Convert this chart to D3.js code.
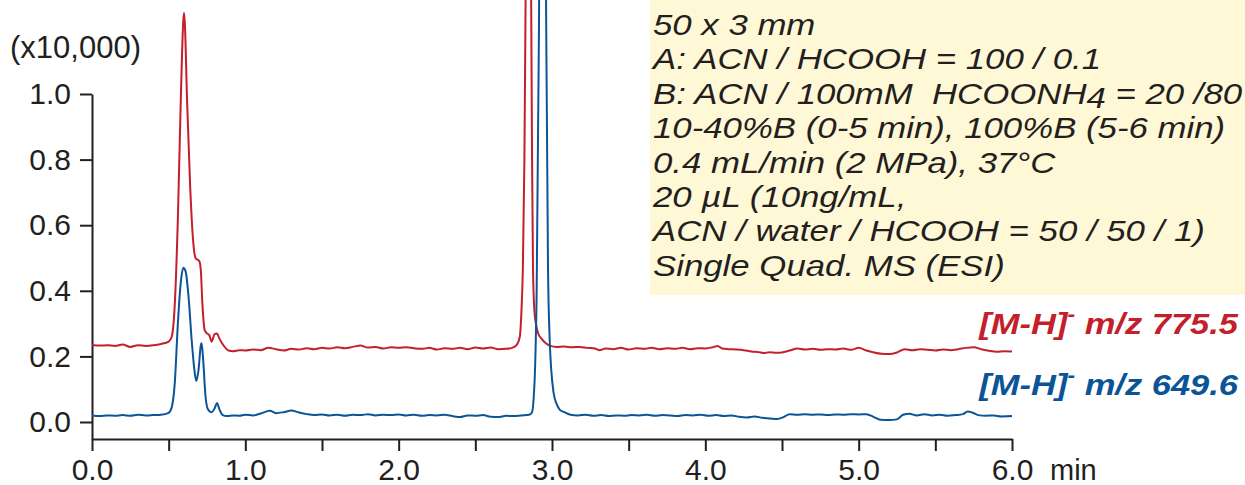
<!DOCTYPE html>
<html>
<head>
<meta charset="utf-8">
<script src="https://cdn.jsdelivr.net/npm/d3@7"></script>
<style>
  body { margin: 0; background: #fff; }
  svg { display: block; font-family: "Liberation Sans", Arial, sans-serif; }
</style>
</head>
<body>
<svg></svg>
<script>
const svgWidth = 1245;
const svgHeight = 485;

// Chromatogram traces, [time (min), intensity (x10,000)]
const redTrace = [
  [0.00,.235],[0.05,.233],[0.10,.234],[0.15,.232],[0.20,.236],[0.25,.229],[0.30,.234],[0.35,.232],
  [0.40,.234],[0.45,.238],[0.50,.245],[0.52,.26],[0.54,.36],[0.56,.62],[0.58,1.0],[0.595,1.22],
  [0.60,1.247],[0.605,1.22],[0.62,.98],[0.64,.72],[0.66,.55],[0.675,.50],[0.70,.49],[0.71,.46],
  [0.72,.36],[0.735,.28],[0.75,.27],[0.765,.265],[0.78,.245],[0.80,.268],[0.815,.27],[0.83,.255],
  [0.86,.232],[0.89,.218],[0.92,.216],[0.96,.219],[1.00,.218],[1.05,.221],[1.10,.219],[1.15,.226],
  [1.20,.222],[1.25,.218],[1.30,.223],[1.35,.221],[1.40,.225],[1.45,.222],[1.50,.226],[1.55,.224],
  [1.60,.228],[1.65,.225],[1.70,.229],[1.75,.233],[1.80,.227],[1.85,.229],[1.90,.224],[1.95,.228],
  [2.00,.226],[2.05,.228],[2.10,.225],[2.15,.223],[2.20,.226],[2.25,.221],[2.30,.225],[2.35,.223],
  [2.40,.226],[2.45,.222],[2.50,.227],[2.55,.224],[2.60,.227],[2.65,.222],[2.70,.223],[2.74,.226],
  [2.77,.235],[2.79,.26],[2.80,.33],[2.81,.47],[2.82,.8],[2.828,1.3],[2.837,1.8],[2.847,2.0],
  [2.856,1.8],[2.864,1.3],[2.87,.8],[2.876,.47],[2.885,.34],[2.895,.30],[2.91,.27],[2.93,.255],
  [2.96,.24],[2.99,.232],[3.03,.229],[3.08,.230],[3.13,.228],[3.18,.229],[3.23,.226],[3.28,.224],
  [3.31,.219],[3.35,.224],[3.40,.222],[3.45,.226],[3.50,.221],[3.55,.225],[3.60,.223],[3.65,.226],
  [3.70,.222],[3.75,.225],[3.80,.223],[3.85,.226],[3.90,.222],[3.95,.225],[4.00,.224],[4.05,.228],
  [4.08,.232],[4.11,.224],[4.15,.222],[4.20,.221],[4.25,.219],[4.30,.215],[4.35,.213],[4.38,.210],
  [4.42,.213],[4.46,.211],[4.50,.212],[4.55,.218],[4.60,.224],[4.65,.221],[4.70,.223],[4.75,.220],
  [4.80,.222],[4.85,.221],[4.90,.224],[4.95,.220],[5.00,.226],[5.05,.218],[5.10,.212],[5.15,.208],
  [5.20,.207],[5.25,.212],[5.30,.222],[5.35,.219],[5.40,.222],[5.45,.220],[5.50,.218],[5.55,.221],
  [5.60,.219],[5.65,.222],[5.70,.226],[5.75,.228],[5.80,.222],[5.85,.217],[5.90,.214],[5.95,.216],
  [6.00,.215]
];

const blueTrace = [
  [0.00,.020],[0.05,.018],[0.10,.020],[0.15,.019],[0.20,.021],[0.25,.019],[0.30,.022],[0.35,.020],
  [0.40,.021],[0.45,.022],[0.50,.028],[0.52,.045],[0.54,.12],[0.56,.30],[0.58,.43],[0.595,.47],
  [0.61,.46],[0.63,.38],[0.65,.25],[0.67,.15],[0.68,.125],[0.695,.16],[0.71,.235],[0.715,.24],
  [0.725,.19],[0.74,.08],[0.755,.04],[0.78,.03],[0.80,.042],[0.815,.058],[0.83,.04],[0.85,.022],
  [0.88,.018],[0.92,.020],[0.96,.019],[1.00,.022],[1.05,.020],[1.10,.026],[1.16,.034],[1.20,.027],
  [1.25,.030],[1.30,.035],[1.35,.029],[1.40,.024],[1.45,.021],[1.50,.023],[1.55,.020],[1.60,.022],
  [1.65,.019],[1.70,.022],[1.75,.021],[1.80,.024],[1.85,.020],[1.90,.022],[1.95,.021],[2.00,.023],
  [2.05,.020],[2.10,.022],[2.15,.019],[2.20,.021],[2.25,.020],[2.30,.022],[2.35,.018],[2.40,.015],
  [2.45,.020],[2.50,.019],[2.55,.021],[2.60,.016],[2.65,.015],[2.70,.019],[2.75,.018],[2.80,.020],
  [2.85,.022],[2.87,.030],[2.88,.07],[2.89,.17],[2.90,.40],[2.915,1.2],[2.927,2.2],[2.938,2.6],
  [2.95,2.2],[2.961,1.3],[2.974,.47],[2.985,.25],[2.995,.16],[3.01,.09],[3.03,.055],[3.05,.038],
  [3.08,.030],[3.12,.022],[3.17,.020],[3.22,.022],[3.27,.019],[3.32,.021],[3.37,.018],[3.42,.020],
  [3.47,.019],[3.52,.021],[3.57,.020],[3.62,.022],[3.67,.019],[3.72,.021],[3.77,.020],[3.82,.018],
  [3.87,.021],[3.92,.020],[3.97,.022],[4.02,.019],[4.07,.021],[4.12,.018],[4.17,.020],[4.22,.016],
  [4.27,.014],[4.32,.017],[4.37,.013],[4.42,.011],[4.47,.009],[4.51,.015],[4.55,.024],[4.60,.022],
  [4.65,.024],[4.70,.022],[4.75,.023],[4.80,.021],[4.85,.023],[4.90,.022],[4.95,.024],[5.00,.023],
  [5.05,.024],[5.10,.015],[5.14,.007],[5.20,.006],[5.25,.008],[5.29,.022],[5.33,.025],[5.38,.020],
  [5.43,.024],[5.48,.020],[5.53,.022],[5.58,.019],[5.63,.021],[5.68,.024],[5.71,.032],[5.74,.029],
  [5.78,.021],[5.83,.019],[5.88,.020],[5.93,.017],[6.00,.018]
];

const xTicks = [0, 0.5, 1, 1.5, 2, 2.5, 3, 3.5, 4, 4.5, 5, 5.5, 6];
const yTicks = [0, 0.2, 0.4, 0.6, 0.8, 1.0];

const conditions = [
  "50 x 3 mm",
  "A: ACN / HCOOH = 100 / 0.1",
  "B: ACN / 100mM \u00a0HCOONH4 = 20 /80",
  "10-40%B (0-5 min), 100%B (5-6 min)",
  "0.4 mL/min (2 MPa), 37°C",
  "20 µL (10ng/mL,",
  "ACN / water / HCOOH = 50 / 50 / 1)",
  "Single Quad. MS (ESI)"
];

const seriesLabels = [
  { ion: "775.5", color: "#c41f2c", y: 334 },
  { ion: "649.6", color: "#0b5597", y: 395 }
];

const svg = d3.select("svg")
  .attr("width", svgWidth)
  .attr("height", svgHeight);

// scales
const x = d3.scaleLinear().domain([0, 6]).range([92, 1012]);
const y = d3.scaleLinear().domain([-17 / 328, 1.0]).range([439, 94]);

// conditions box (the original lettering is set wider than Arial, hence the x-stretch)
svg.append("rect")
  .attr("x", 650).attr("y", 0)
  .attr("width", 595).attr("height", 295)
  .attr("fill", "#fff8d6");

const cond = svg.append("text")
  .attr("transform", "translate(653,0) scale(1.16,1)")
  .attr("font-style", "italic")
  .attr("font-size", 30)
  .attr("fill", "#231f20");
conditions.forEach((line, i) => {
  const t = cond.append("tspan").attr("x", 0).attr("y", 35 + i * 34.4);
  if (line.includes("HCOONH4")) {
    const parts = line.split("4");
    t.text(parts[0]);
    cond.append("tspan").attr("dy", 4).text("4");
    cond.append("tspan").attr("dy", -4).text(parts[1]);
  } else {
    t.text(line);
  }
});

// axes
const yAxis = svg.append("g")
  .attr("transform", "translate(92,0)")
  .call(d3.axisLeft(y).tickValues(yTicks).tickFormat(d3.format(".1f"))
    .tickSize(12).tickSizeOuter(0).tickPadding(9));

const xAxis = svg.append("g")
  .attr("transform", "translate(0,439)")
  .call(d3.axisBottom(x).tickValues(xTicks)
    .tickFormat(d => Number.isInteger(d) ? d3.format(".1f")(d) : "")
    .tickSize(12).tickSizeOuter(0).tickPadding(8));

[yAxis, xAxis].forEach(g => {
  g.selectAll("path, line").attr("stroke", "#231f20").attr("stroke-width", 2);
  g.selectAll("text").attr("font-size", 30).attr("fill", "#231f20")
    .attr("font-family", "Liberation Sans, Arial, sans-serif");
});

svg.append("text")
  .attr("x", 10).attr("y", 58)
  .attr("font-size", 31).attr("fill", "#231f20")
  .text("(x10,000)");

svg.append("text")
  .attr("x", 1050).attr("y", 480)
  .attr("font-size", 29).attr("fill", "#231f20")
  .text("min");

// traces
const line = d3.line()
  .x(d => x(d[0]))
  .y(d => y(d[1]))
  .curve(d3.curveMonotoneX);

svg.append("path").datum(redTrace)
  .attr("d", line).attr("fill", "none")
  .attr("stroke", "#c41f2c").attr("stroke-width", 2);

svg.append("path").datum(blueTrace)
  .attr("d", line).attr("fill", "none")
  .attr("stroke", "#0b5597").attr("stroke-width", 2);

// series labels
seriesLabels.forEach(s => {
  const t = svg.append("text")
    .attr("transform", `translate(1238,${s.y}) scale(1.15,1)`)
    .attr("text-anchor", "end")
    .attr("font-size", 30).attr("font-weight", "bold").attr("font-style", "italic")
    .attr("fill", s.color);
  t.append("tspan").text("[M-H]");
  t.append("tspan").attr("dy", -13).attr("font-size", 20).text("-");
  t.append("tspan").attr("dy", 13).text(" m/z " + s.ion);
});
</script>
</body>
</html>
